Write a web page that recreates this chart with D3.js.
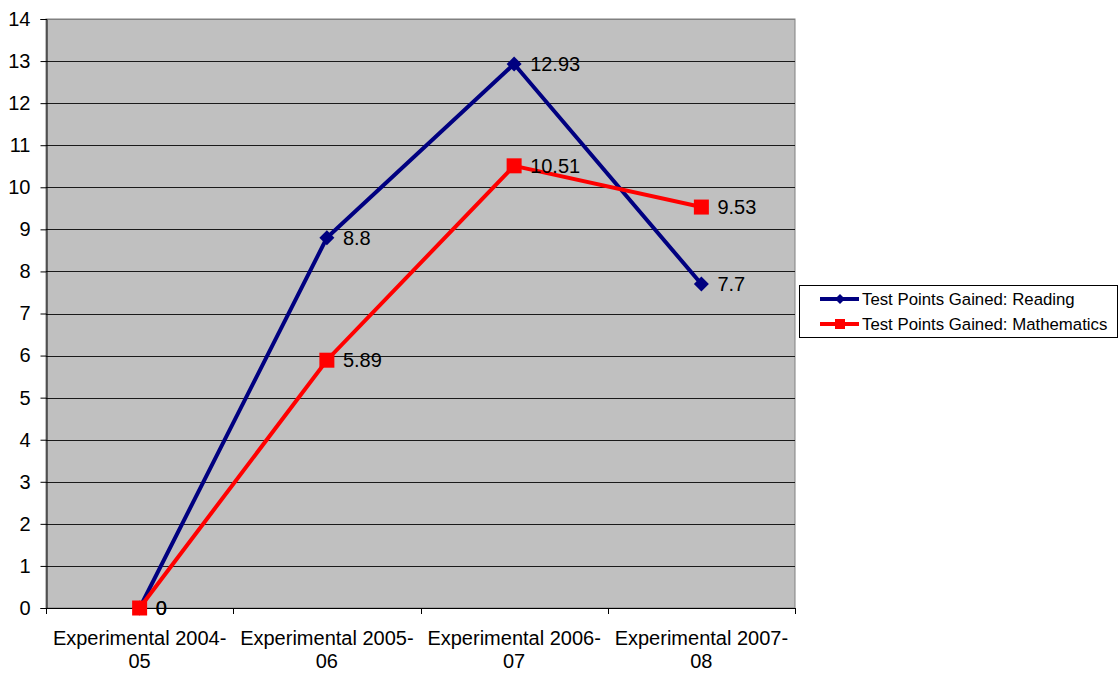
<!DOCTYPE html>
<html>
<head>
<meta charset="utf-8">
<script src="https://cdn.jsdelivr.net/npm/d3@7"></script>
<style>
  html, body { margin: 0; padding: 0; background: #fff; }
  svg { display: block; font-family: Arial, "Liberation Sans", sans-serif; }
</style>
</head>
<body>
<svg id="chart" width="1119" height="673"></svg>
<script>
// Category labels (two lines each) and series values
const categories = ["Experimental 2004-05", "Experimental 2005-06", "Experimental 2006-07", "Experimental 2007-08"];
const categoryLines = [["Experimental 2004-", "05"], ["Experimental 2005-", "06"], ["Experimental 2006-", "07"], ["Experimental 2007-", "08"]];
const readingValues = [0, 8.8, 12.93, 7.7];
const mathValues = [0, 5.89, 10.51, 9.53];
const yTicks = [0, 1, 2, 3, 4, 5, 6, 7, 8, 9, 10, 11, 12, 13, 14];
const seriesNames = ["Test Points Gained: Reading", "Test Points Gained: Mathematics"];

const svg = d3.select("#chart");
const plot = { left: 46, right: 795, top: 19, bottom: 608 };
const FONT = 20;

const x = d3.scaleBand().domain(categories).range([plot.left, plot.right]).padding(0);
const y = d3.scaleLinear().domain([0, 14]).range([plot.bottom, plot.top]);

// plot background
svg.append("rect")
  .attr("x", plot.left).attr("y", plot.top)
  .attr("width", plot.right - plot.left).attr("height", plot.bottom - plot.top)
  .attr("fill", "#c0c0c0")
  .attr("stroke", "#808080").attr("stroke-width", 1);

// horizontal gridlines
svg.append("g").selectAll("line").data(yTicks.filter(d => d > 0)).join("line")
  .attr("x1", plot.left).attr("x2", plot.right)
  .attr("y1", d => Math.round(y(d)) + 0.5).attr("y2", d => Math.round(y(d)) + 0.5)
  .attr("stroke", d => d === 14 ? "#808080" : "#1a1a1a").attr("stroke-width", 1);

// y axis
const yAxis = d3.axisLeft(y).tickValues(yTicks).tickSize(6).tickPadding(10).tickFormat(d3.format("d"));
const gy = svg.append("g").attr("transform", `translate(${plot.left + 0.5},0)`).call(yAxis);
gy.select(".domain").attr("stroke", "#000");
gy.selectAll(".tick line").attr("stroke", "#000");
gy.selectAll(".tick text").attr("font-size", FONT).attr("fill", "#000")
  .attr("font-family", "Arial, 'Liberation Sans', sans-serif");

// x axis with ticks at band boundaries
svg.append("line")
  .attr("x1", plot.left).attr("x2", plot.right)
  .attr("y1", plot.bottom + 0.5).attr("y2", plot.bottom + 0.5)
  .attr("stroke", "#000");
const boundaries = categories.map(c => x(c)).concat([x(categories[categories.length - 1]) + x.bandwidth()]);
svg.append("g").selectAll("line").data(boundaries).join("line")
  .attr("x1", d => Math.round(d) + 0.5).attr("x2", d => Math.round(d) + 0.5)
  .attr("y1", plot.bottom).attr("y2", plot.bottom + 6)
  .attr("stroke", "#000");

const xLabels = svg.append("g");
categories.forEach((c, i) => {
  const t = xLabels.append("text")
    .attr("x", x(c) + x.bandwidth() / 2)
    .attr("y", 645)
    .attr("text-anchor", "middle")
    .attr("font-size", FONT).attr("fill", "#000");
  categoryLines[i].forEach((line, j) => {
    t.append("tspan").attr("x", x(c) + x.bandwidth() / 2).attr("dy", j === 0 ? 0 : 23).text(line);
  });
});

const cx = (i) => x(categories[i]) + x.bandwidth() / 2;
const lineGen = d3.line().x((d, i) => cx(i)).y(d => y(d));

// series lines
svg.append("path").datum(readingValues)
  .attr("d", lineGen).attr("fill", "none")
  .attr("stroke", "#000080").attr("stroke-width", 4).attr("stroke-linejoin", "miter");
svg.append("path").datum(mathValues)
  .attr("d", lineGen).attr("fill", "none")
  .attr("stroke", "#ff0000").attr("stroke-width", 4).attr("stroke-linejoin", "miter");

// diamond markers for reading
const diamond = (s) => `M0,${-s}L${s},0L0,${s}L${-s},0Z`;
svg.append("g").selectAll("path").data(readingValues).join("path")
  .attr("transform", (d, i) => `translate(${cx(i)},${y(d)})`)
  .attr("d", diamond(7.5))
  .attr("fill", "#000080");

// square markers for mathematics
svg.append("g").selectAll("rect").data(mathValues).join("rect")
  .attr("x", (d, i) => cx(i) - 7.5).attr("y", d => y(d) - 7.5)
  .attr("width", 15).attr("height", 15)
  .attr("fill", "#ff0000");

// data labels
const labelFmt = d => String(d);
svg.append("g").selectAll("text").data(readingValues).join("text")
  .attr("x", (d, i) => cx(i) + 16).attr("y", d => y(d) + 7)
  .attr("font-size", FONT).attr("fill", "#000")
  .text(labelFmt);
svg.append("g").selectAll("text").data(mathValues).join("text")
  .attr("x", (d, i) => cx(i) + 16).attr("y", d => y(d) + 7)
  .attr("font-size", FONT).attr("fill", "#000")
  .text(labelFmt);

// legend
const legend = svg.append("g");
legend.append("rect")
  .attr("x", 799.5).attr("y", 285.5).attr("width", 318).attr("height", 52)
  .attr("fill", "#fff").attr("stroke", "#000").attr("stroke-width", 1);
const legendColors = ["#000080", "#ff0000"];
seriesNames.forEach((name, i) => {
  const ly = 299 + i * 25;
  legend.append("line")
    .attr("x1", 820).attr("x2", 859).attr("y1", ly).attr("y2", ly)
    .attr("stroke", legendColors[i]).attr("stroke-width", 4);
  if (i === 0) {
    legend.append("path").attr("transform", `translate(840,${ly})`).attr("d", diamond(5)).attr("fill", legendColors[i]);
  } else {
    legend.append("rect").attr("x", 835).attr("y", ly - 5).attr("width", 10).attr("height", 10).attr("fill", legendColors[i]);
  }
  legend.append("text")
    .attr("x", 862).attr("y", ly + 6)
    .attr("font-size", 16.8).attr("fill", "#000")
    .text(name);
});
</script>
</body>
</html>
